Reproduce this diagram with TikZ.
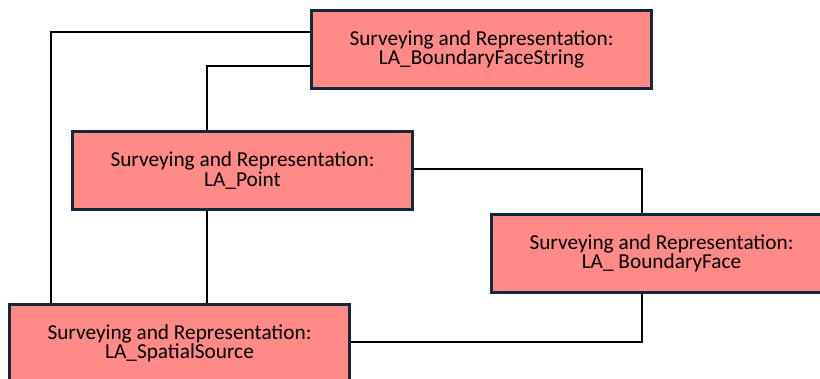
\documentclass[tikz,border=0pt]{standalone}
\usepackage{fontspec}
\setmainfont{Carlito}
\begin{document}
\begin{tikzpicture}[x=1pt,y=-1pt,
  classbox/.style={draw=boxline, line width=2.4pt, fill=boxfill,
    minimum width=339pt, minimum height=77pt, inner sep=0pt,
    align=center, font=\fontsize{21.3}{19.5}\selectfont},
  link/.style={draw=black, line width=2.1pt}]
\definecolor{boxfill}{HTML}{FF8A87}
\definecolor{boxline}{HTML}{13293A}
\useasboundingbox (0,0) rectangle (820,379);
\clip (0,0) rectangle (820,379);

% bend points of the connectors
\coordinate (c1) at (51,32);
\coordinate (c2) at (207,66);
\coordinate (c3) at (642,169);
\coordinate (c4) at (642,342);

\node[classbox] (bfs) at (481.5,49.5) {Surveying and Representation:\\LA\_BoundaryFaceString};
\node[classbox] (pt)  at (242.5,170.5) {Surveying and Representation:\\LA\_Point};
\node[classbox] (bf)  at (661.5,253.5) {Surveying and Representation:\\LA\_ BoundaryFace};
\node[classbox] (ss)  at (179.5,343.5) {Surveying and Representation:\\LA\_SpatialSource};

\draw[link] (bfs.west |- c1) -- (c1) -- (c1 |- ss.north);
\draw[link] (bfs.west |- c2) -- (c2) -- (c2 |- pt.north);
\draw[link] (pt.south -| c2) -- (ss.north -| c2);
\draw[link] (pt.east |- c3) -- (c3) -- (c3 |- bf.north);
\draw[link] (bf.south -| c4) -- (c4) -- (ss.east |- c4);

% redraw box outlines over connector ends
\foreach \n in {bfs,pt,bf,ss}
  \draw[boxline, line width=2.4pt] (\n.south west) rectangle (\n.north east);
\end{tikzpicture}
\end{document}
